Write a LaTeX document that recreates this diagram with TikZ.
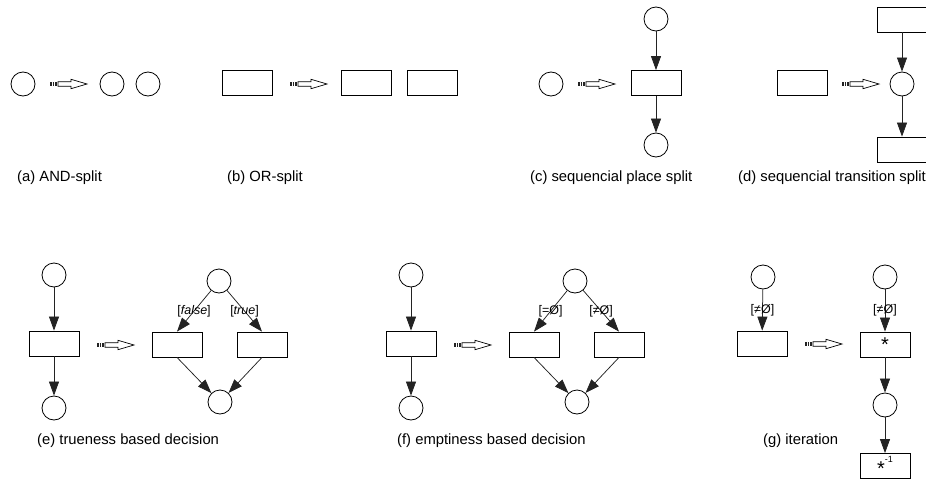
\documentclass[tikz,border=0pt]{standalone}
\usepackage{fontspec}
\setmainfont{Liberation Sans}
\usetikzlibrary{arrows.meta}
\definecolor{arcGray}{RGB}{35,35,35}
\tikzset{
  place/.style={circle,draw,line width=0.8pt,minimum size=24pt,inner sep=0pt},
  trans/.style={draw,line width=0.8pt,minimum width=50pt,minimum height=25pt,inner sep=0pt,
                font=\fontsize{20}{20}\selectfont},
  arc/.style={draw=arcGray,line width=0.75pt,-{Triangle[length=14pt,width=10pt]}},
  guard/.style={font=\fontsize{12.5}{12.5}\selectfont,inner sep=0pt},
  subcap/.style={anchor=west,inner sep=0pt,font=\fontsize{14.8}{16}\selectfont}
}
% hollow "becomes" arrow, tail at (#1,#2)
\newcommand{\Implies}[2]{%
  \draw[arcGray,line width=4pt,dash pattern=on 1.5pt off 1pt] (#1,#2) -- ++(8,0);
  \draw[line width=0.7pt,fill=white] (#1+8,#2-2.2) -- ++(13,0) -- ++(0,-2.5) -- ++(16,4.7)
    -- ++(-16,4.7) -- ++(0,-2.5) -- ++(-13,0) -- cycle;}
\newcommand{\Star}{\raisebox{-0.4ex}{*}}

\begin{document}
\begin{tikzpicture}[x=1pt,y=-1pt]
\useasboundingbox (0,0) rectangle (926,479);
% (a) AND-split
\node[place] (a0) at (23,84) {};
\Implies{50}{84}
\foreach \x [count=\i] in {112,148}
  \node[place] (a\i) at (\x,84) {};
\node[subcap] (acap) at (17,178) {(a) AND-split};
% (b) OR-split
\node[trans] (b0) at (247,83) {};
\Implies{290}{84}
\foreach \x [count=\i] in {366,432}
  \node[trans] (b\i) at (\x,83) {};
\node[subcap] (bcap) at (227,178) {(b) OR-split};
% (c) sequencial place split
\node[place] (c0) at (551,84) {};
\Implies{578}{84}
\node[place] (c1) at (656,19) {};
\node[trans] (c2) at (656,83) {};
\node[place] (c3) at (656,145) {};
\draw[arc] (c1) -- (c2);
\draw[arc] (c2) -- (c3);
\node[subcap] (ccap) at (530,178) {(c) sequencial place split};
% (d) sequencial transition split
\node[trans] (d0) at (802,83) {};
\Implies{842}{84}
\node[trans] (d1) at (902,19.5) {};
\node[place] (d2) at (902,84) {};
\node[trans] (d3) at (902,149.5) {};
\draw[arc] (d1) -- (d2);
\draw[arc] (d2) -- (d3);
\node[subcap] (dcap) at (738,178) {(d) sequencial transition split};
% (e) trueness based decision
\node[place] (e0) at (54,275) {};
\node[trans] (e1) at (54,343.5) {};
\node[place] (e2) at (54,408) {};
\draw[arc] (e0) -- (e1);
\draw[arc] (e1) -- (e2);
\Implies{97}{345}
\node[place] (e3) at (219,281) {};
\node[trans] (e4) at (177,344.5) {};
\node[trans] (e5) at (262,344.5) {};
\node[place] (e6) at (220,402) {};
\draw[arc] (e3) -- node[guard] {[\textit{false}]} (e4.north);
\draw[arc] (e3) -- node[guard] {[\textit{true}]} (e5.north);
\draw[arc] (e4.south) -- (e6);
\draw[arc] (e5.south) -- (e6);
\node[subcap] (ecap) at (37,441) {(e) trueness based decision};
% (f) emptiness based decision
\node[place] (f0) at (411,275) {};
\node[trans] (f1) at (411,343.5) {};
\node[place] (f2) at (411,408) {};
\draw[arc] (f0) -- (f1);
\draw[arc] (f1) -- (f2);
\Implies{454}{345}
\node[place] (f3) at (575,281) {};
\node[trans] (f4) at (534,344.5) {};
\node[trans] (f5) at (619,344.5) {};
\node[place] (f6) at (577,402) {};
\draw[arc] (f3) -- node[guard] {[=Ø]} (f4.north);
\draw[arc] (f3) -- node[guard] {[≠Ø]} (f5.north);
\draw[arc] (f4.south) -- (f6);
\draw[arc] (f5.south) -- (f6);
\node[subcap] (fcap) at (397,441) {(f) emptiness based decision};
% (g) iteration
\node[place] (g0) at (763,277) {};
\node[trans] (g1) at (762,343.5) {};
\draw[arc] (g0) -- node[guard] {[≠Ø]} (g1);
\Implies{805}{344}
\node[place] (g2) at (885,277) {};
\node[trans] (g3) at (885,344.5) {\Star};
\node[place] (g4) at (885,405) {};
\node[trans] (g5) at (885,466) {\Star\raisebox{0.8ex}{\fontsize{9}{9}\selectfont -1}};
\draw[arc] (g2) -- node[guard] {[≠Ø]} (g3);
\draw[arc] (g3) -- (g4);
\draw[arc] (g4) -- (g5);
\node[subcap] (gcap) at (763,441) {(g) iteration};
\end{tikzpicture}
\end{document}
